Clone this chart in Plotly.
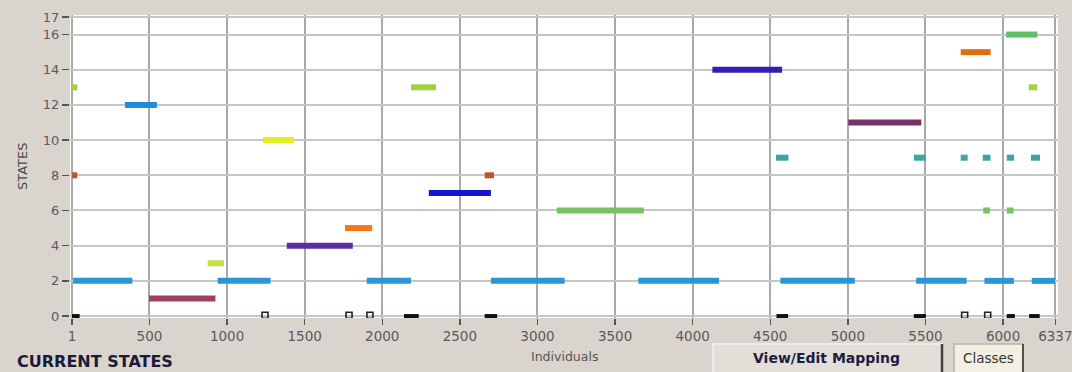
import plotly.graph_objects as go

# ---------------- data ----------------
states = list(range(0, 17))
state_colors = {
    0: "#111111", 1: "#a04060", 2: "#2b96d7", 3: "#c8e13c", 4: "#5c2ca0",
    5: "#f57814", 6: "#78c35f", 7: "#1414d2", 8: "#be552d", 9: "#3ca5a0",
    10: "#e1f01e", 11: "#783269", 12: "#1e8cdc", 13: "#a0d23c", 14: "#321eaf",
    15: "#e16e0f", 16: "#5fbe69",
}
seg_start = {
    0: [1, 2140, 2660, 4540, 5425, 6024, 6168],
    1: [497],
    2: [8, 940, 1900, 2700, 3650, 4565, 5440, 5880, 6185],
    3: [875],
    4: [1385],
    5: [1760],
    6: [3125, 5872, 6024],
    7: [2300],
    8: [1, 2660],
    9: [4537, 5426, 5727, 5869, 6024, 6180],
    10: [1231],
    11: [5003],
    12: [342],
    13: [1, 2185, 6165],
    14: [4127],
    15: [5727],
    16: [6020],
}
seg_end = {
    0: [50, 2235, 2740, 4615, 5503, 6076, 6236],
    1: [925],
    2: [390, 1280, 2185, 3175, 4170, 5045, 5765, 6070, 6335],
    3: [980],
    4: [1810],
    5: [1935],
    6: [3685, 5915, 6068],
    7: [2700],
    8: [35, 2720],
    9: [4617, 5502, 5772, 5919, 6071, 6238],
    10: [1432],
    11: [5473],
    12: [548],
    13: [35, 2346, 6220],
    14: [4576],
    15: [5920],
    16: [6221],
}
# hollow (outlined) state-0 marks
hollow_start = [1223, 1765, 1897, 5730, 5872]
hollow_end = [1266, 1807, 1944, 5775, 5930]

x_ticks = [1, 500, 1000, 1500, 2000, 2500, 3000, 3500, 4000, 4500, 5000, 5500, 6000, 6337]
y_ticks = [0, 2, 4, 6, 8, 10, 12, 14, 16, 17]

# ---------------- figure ----------------
W, H = 1072, 372
ML, MR, MT, MB = 70, 14, 15, 54
PW, PH = W - ML - MR, H - MT - MB

def px2x(px):
    return (px - ML) / PW

def py2y(py):
    return (H - MB - py) / PH

fig = go.Figure()
for s in states:
    xs, ys = [], []
    for a, b in zip(seg_start[s], seg_end[s]):
        xs += [a, b, None]
        ys += [s, s, None]
    fig.add_trace(go.Scatter(
        x=xs, y=ys, mode="lines",
        line=dict(color=state_colors[s], width=4 if s == 0 else 6),
        hoverinfo="skip", showlegend=False,
    ))

fig.add_trace(go.Scatter(
    x=[(a + b) / 2 for a, b in zip(hollow_start, hollow_end)],
    y=[0.05] * len(hollow_start), mode="markers",
    marker=dict(symbol="square-open", size=6, color="#222222", line=dict(width=1.6)),
    hoverinfo="skip", showlegend=False,
))

font_fam = "DejaVu Sans, Verdana, sans-serif"
fig.update_layout(
    width=W, height=H,
    margin=dict(l=ML, r=MR, t=MT, b=MB, autoexpand=False),
    paper_bgcolor="#d9d5ce",
    plot_bgcolor="#ffffff",
    font=dict(family=font_fam, color="#5a5a5a"),
    xaxis=dict(
        range=[-12, 6354], tickvals=x_ticks, ticktext=[str(v) for v in x_ticks],
        showgrid=True, gridcolor="#a9a9a9", gridwidth=2,
        ticks="outside", ticklen=6, tickwidth=1.5, tickcolor="#555555",
        tickfont=dict(size=13.5, color="#5a5a5a"), zeroline=False, showline=False,
        fixedrange=True, automargin=False, ticklabeloverflow="allow",
    ),
    yaxis=dict(
        range=[-0.11, 17.11], tickvals=y_ticks, ticktext=[str(v) for v in y_ticks],
        showgrid=True, gridcolor="#c6c6c6", gridwidth=2,
        ticks="outside", ticklen=7, tickwidth=1.5, tickcolor="#555555",
        tickfont=dict(size=13, color="#5a5a5a"), zeroline=False, showline=False,
        fixedrange=True, automargin=False, ticklabeloverflow="allow",
    ),
)

shapes = []
# View/Edit Mapping button
bx0, bx1, by0, by1 = 713, 942, 344, 378
shapes.append(dict(type="rect", xref="paper", yref="paper",
                   x0=px2x(bx0), x1=px2x(bx1), y0=py2y(by1), y1=py2y(by0),
                   fillcolor="#e3dfd8", line=dict(color="#f4f2ee", width=1.5), layer="above"))
shapes.append(dict(type="line", xref="paper", yref="paper",
                   x0=px2x(bx1), x1=px2x(bx1), y0=py2y(by1), y1=py2y(by0),
                   line=dict(color="#404040", width=2.5), layer="above"))
# Classes button
cx0, cx1, cy0, cy1 = 954, 1023, 344, 378
shapes.append(dict(type="rect", xref="paper", yref="paper",
                   x0=px2x(cx0), x1=px2x(cx1), y0=py2y(cy1), y1=py2y(cy0),
                   fillcolor="#f3efe2", line=dict(color="#b8b4ac", width=1.5), layer="above"))
shapes.append(dict(type="line", xref="paper", yref="paper",
                   x0=px2x(cx1), x1=px2x(cx1), y0=py2y(cy1), y1=py2y(cy0),
                   line=dict(color="#505050", width=2), layer="above"))
fig.update_layout(shapes=shapes)

ann = [
    dict(text="STATES", x=px2x(22), y=py2y(167), textangle=-90,
         font=dict(size=13, color="#4a4a4a", family=font_fam)),
    dict(text="Individuals", x=px2x(564), y=py2y(356),
         font=dict(size=12.5, color="#555555", family=font_fam)),
    dict(text="<b>CURRENT STATES</b>", x=px2x(15), y=py2y(361), xanchor="left",
         font=dict(size=16, color="#1c1a38", family=font_fam)),
    dict(text="<b>View/Edit Mapping</b>", x=px2x(826), y=py2y(358),
         font=dict(size=14, color="#201c40", family=font_fam)),
    dict(text="Classes", x=px2x(988), y=py2y(358),
         font=dict(size=13.5, color="#333333", family=font_fam)),
]
for a in ann:
    a.setdefault("xanchor", "center")
    a.update(xref="paper", yref="paper", yanchor="middle", showarrow=False)
fig.update_layout(annotations=ann)

fig.write_html(
    "out.html",
    config={"displayModeBar": False, "staticPlot": True},
    post_script="document.body.style.margin='0';document.body.style.overflow='hidden';",
)
